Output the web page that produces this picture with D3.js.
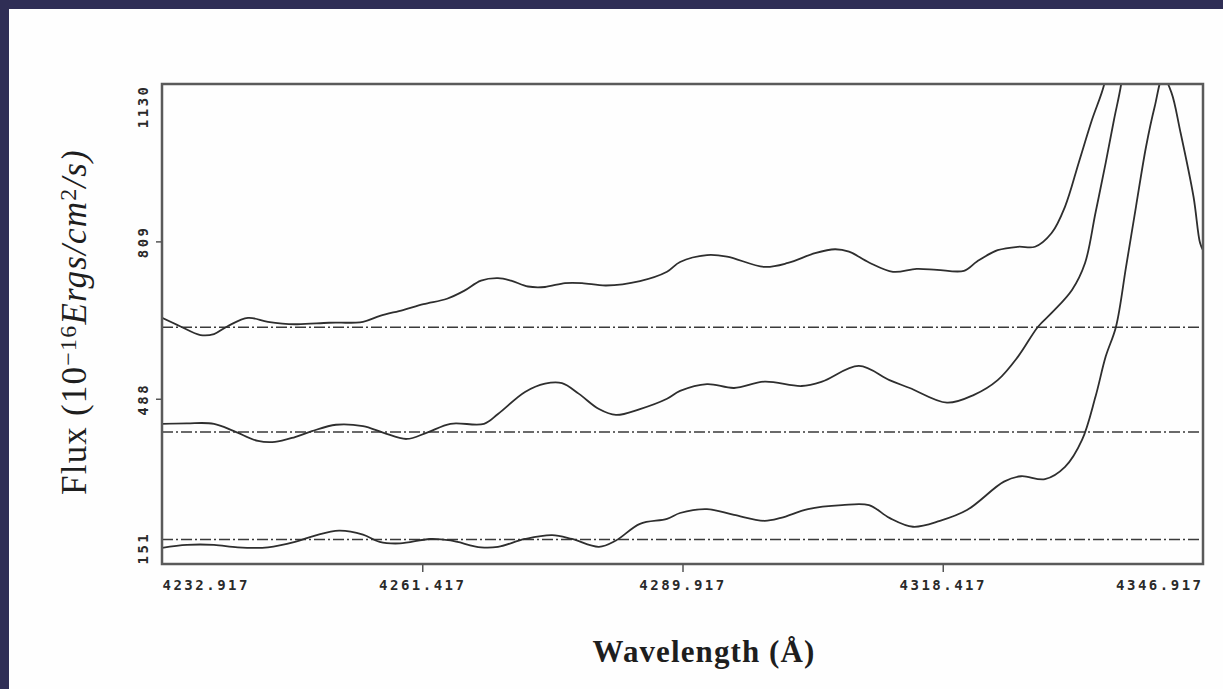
<!DOCTYPE html>
<html>
<head>
<meta charset="utf-8">
<script src="https://cdn.jsdelivr.net/npm/d3@7"></script>
<style>
  html, body { margin: 0; padding: 0; background: #2f2e55; }
  svg { display: block; }
</style>
</head>
<body>
<svg id="chart" width="1223" height="689"></svg>
<script>
// spectra: wavelength (A) and flux (1e-16 erg/cm2/s)
var wl_top = [4232.92, 4234.89, 4237.13, 4238.61, 4240.10, 4242.33, 4244.52, 4247.48, 4251.21, 4254.93,
  4256.79, 4259.31, 4261.55, 4264.13, 4265.99, 4267.85, 4269.71, 4271.14, 4273.00, 4274.86,
  4277.05, 4278.91, 4281.54, 4285.26, 4288.22, 4289.65, 4292.60, 4294.79, 4298.90, 4301.47,
  4304.43, 4306.62, 4308.15, 4310.34, 4312.97, 4315.55, 4317.79, 4320.74, 4322.17, 4324.43,
  4326.66, 4328.52, 4330.34, 4331.81, 4333.30, 4334.76, 4336.08, 4336.74];
var flux_top = [653, 636, 618, 620, 636, 653, 645, 640, 643, 645,
  657, 669, 681, 692, 708, 729, 734, 729, 717, 716,
  724, 724, 719, 728, 747, 767, 781, 778, 757, 765,
  785, 793, 788, 766, 747, 753, 751, 749, 768, 791,
  798, 798, 826, 880, 969, 1057, 1128, 1200];

var wl_mid = [4232.92, 4235.65, 4238.61, 4240.80, 4243.43, 4245.29, 4247.48, 4249.34, 4251.97, 4254.93,
  4257.12, 4259.70, 4261.94, 4264.51, 4268.18, 4269.71, 4272.67, 4274.86, 4276.72, 4278.58,
  4280.77, 4282.63, 4285.26, 4288.22, 4289.65, 4292.60, 4295.56, 4298.90, 4302.96, 4305.19,
  4309.24, 4312.58, 4314.80, 4318.88, 4321.84, 4324.43, 4326.66, 4328.85, 4330.34, 4332.57,
  4334.00, 4335.14, 4336.26, 4337.17, 4337.94, 4338.59];
var flux_mid = [437, 438, 437, 422, 402, 400, 410, 422, 435, 432,
  419, 406, 419, 437, 437, 457, 502, 519, 520, 498,
  467, 455, 467, 488, 504, 518, 510, 523, 514, 523,
  555, 526, 510, 480, 496, 526, 574, 635, 663, 710,
  765, 867, 969, 1057, 1128, 1220];

var wl_low = [4232.92, 4235.65, 4238.61, 4241.21, 4244.52, 4247.48, 4249.67, 4252.30, 4254.93, 4256.75,
  4258.98, 4262.27, 4264.51, 4267.85, 4269.71, 4272.67, 4275.63, 4277.82, 4280.77, 4282.63,
  4285.26, 4288.22, 4289.65, 4292.60, 4295.56, 4298.90, 4300.70, 4303.66, 4307.38, 4310.34,
  4312.58, 4315.16, 4318.11, 4321.07, 4325.12, 4326.99, 4329.61, 4331.81, 4333.67, 4335.14,
  4336.26, 4337.39, 4338.49, 4339.58, 4340.68, 4341.63, 4342.55, 4343.47, 4344.40, 4345.88,
  4346.59, 4346.92];
var flux_low = [184, 190, 190, 185, 185, 196, 209, 219, 211, 196,
  193, 202, 199, 185, 186, 202, 210, 202, 186, 199,
  233, 243, 255, 263, 251, 239, 245, 263, 271, 271,
  245, 227, 239, 261, 319, 330, 324, 349, 404, 492,
  574, 635, 757, 880, 1002, 1084, 1145, 1112, 1036, 900,
  806, 791];

// continuum levels (dash-dot)
var continuum = [634, 420, 201];

var x_ticks = [4232.917, 4261.417, 4289.917, 4318.417, 4346.917];
var y_ticks = [151, 488, 809, 1130];

var svg = d3.select('#chart');
var W = 1223, H = 689;

svg.append('rect').attr('width', W).attr('height', H).attr('fill', '#2f2e55');
svg.append('rect')
  .attr('x', 9).attr('y', 9)
  .attr('width', W - 9).attr('height', H - 9)
  .attr('fill', '#fefefe');

var p_left = 162, p_right = 1203, p_top = 84, p_bottom = 564;

var x = d3.scaleLinear()
  .domain([x_ticks[0], x_ticks[x_ticks.length - 1]])
  .range([p_left, p_right]);

var y = d3.scaleLinear()
  .domain([y_ticks[0], y_ticks[y_ticks.length - 1]])
  .range([p_bottom, p_top]);

svg.append('clipPath')
  .attr('id', 'plot-clip')
  .append('rect')
  .attr('x', p_left).attr('y', p_top)
  .attr('width', p_right - p_left).attr('height', p_bottom - p_top);

var gph = svg.append('g').attr('clip-path', 'url(#plot-clip)');

// dash-dot continuum lines
gph.selectAll('line.cont')
  .data(continuum)
  .enter()
  .append('line')
  .attr('class', 'cont')
  .attr('x1', p_left).attr('x2', p_right)
  .attr('y1', (d) => y(d)).attr('y2', (d) => y(d))
  .attr('stroke', '#3a3a3a')
  .attr('stroke-width', 1.5)
  .attr('stroke-dasharray', '11,3,2,3');

var line = d3.line()
  .x((d) => x(d[0]))
  .y((d) => y(d[1]))
  .curve(d3.curveCatmullRom.alpha(0.5));

var series = [
  d3.zip(wl_top, flux_top),
  d3.zip(wl_mid, flux_mid),
  d3.zip(wl_low, flux_low)
];

gph.selectAll('path.spec')
  .data(series)
  .enter()
  .append('path')
  .attr('class', 'spec')
  .attr('d', line)
  .attr('fill', 'none')
  .attr('stroke', '#2e2e2e')
  .attr('stroke-width', 1.8);

// frame
svg.append('rect')
  .attr('x', p_left).attr('y', p_top)
  .attr('width', p_right - p_left).attr('height', p_bottom - p_top)
  .attr('fill', 'none')
  .attr('stroke', '#5a5a5a')
  .attr('stroke-width', 2.5);

var tick_font = (sel) => sel
  .attr('font-family', '"DejaVu Sans Mono", monospace')
  .attr('font-weight', 'bold')
  .attr('font-size', 14)
  .attr('letter-spacing', 2.5)
  .attr('fill', '#2a2a2a');

// x axis
var gx = svg.append('g')
  .attr('transform', `translate(0, ${ p_bottom })`)
  .call(d3.axisBottom(x).tickValues(x_ticks).tickFormat(d3.format('.3f')).tickSize(8).tickPadding(8));

gx.select('.domain').remove();
gx.selectAll('.tick line').attr('stroke', '#555').attr('stroke-width', 1.5);
gx.selectAll('.tick').filter((d, i) => i === 0 || i === x_ticks.length - 1)
  .select('line').remove();
gx.selectAll('.tick text').call(tick_font)
  .attr('text-anchor', (d, i) => i === 0 ? 'start' : (i === x_ticks.length - 1 ? 'end' : 'middle'));

// y axis, rotated labels
var gy = svg.append('g')
  .attr('transform', `translate(${ p_left }, 0)`)
  .call(d3.axisLeft(y).tickValues(y_ticks).tickFormat(d3.format('d')).tickSize(6));

gy.select('.domain').remove();
gy.selectAll('.tick line').attr('stroke', '#555').attr('stroke-width', 1.5);
gy.selectAll('.tick').filter((d, i) => i === 0 || i === y_ticks.length - 1)
  .select('line').remove();
gy.selectAll('.tick text').call(tick_font)
  .attr('x', null).attr('dy', null)
  .attr('transform', 'translate(-14, 0) rotate(-90)')
  .attr('text-anchor', (d, i) => i === 0 ? 'start' : (i === y_ticks.length - 1 ? 'end' : 'middle'));

// axis titles
var yt = svg.append('text')
  .attr('transform', 'translate(86, 322) rotate(-90)')
  .attr('text-anchor', 'middle')
  .attr('font-family', '"Liberation Serif", "DejaVu Serif", serif')
  .attr('font-size', 35)
  .attr('letter-spacing', 1.2)
  .attr('fill', '#1e1e1e');
yt.append('tspan').text('Flux (10');
yt.append('tspan').text('\u221216').attr('font-size', 24).attr('baseline-shift', '40%');
yt.append('tspan').text('Ergs/cm').attr('font-style', 'italic');
yt.append('tspan').text('2').attr('font-size', 24).attr('baseline-shift', '40%');
yt.append('tspan').text('/s)').attr('font-style', 'italic');

svg.append('text')
  .attr('x', 704).attr('y', 662)
  .attr('text-anchor', 'middle')
  .attr('font-family', '"Liberation Serif", "DejaVu Serif", serif')
  .attr('font-weight', 'bold')
  .attr('font-size', 31)
  .attr('letter-spacing', 1.1)
  .attr('fill', '#1e1e1e')
  .text('Wavelength (\u00c5)');
</script>
</body>
</html>
